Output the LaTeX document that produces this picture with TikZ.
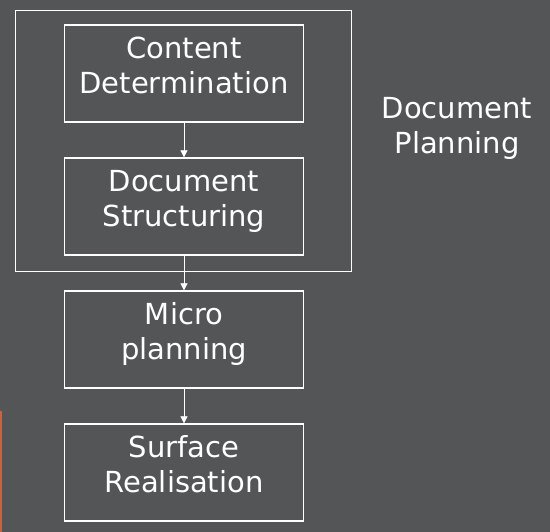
\documentclass[tikz,border=0pt]{standalone}
\usepackage{fontspec}
\setmainfont{DejaVu Sans}
\usepackage{xcolor}
\usetikzlibrary{positioning,arrows.meta}

\definecolor{slidebg}{RGB}{84,85,87}
\definecolor{accent}{RGB}{200,100,62}

\begin{document}
\begin{tikzpicture}[
  x=1pt, y=-1pt,
  node distance=34.7pt,
  >={Triangle[length=7pt,width=7pt]},
  font=\fontsize{29}{35}\selectfont,
  stage/.style={draw=white, line width=1.3pt, text=white, align=center, text depth=17pt, minimum width=239pt, minimum height=97pt, inner sep=0pt},
  arrow/.style={->, draw=white, line width=0.8pt}
]
\fill[slidebg] (0,0) rectangle (550,532);
\useasboundingbox (0,0) rectangle (550,532);
\fill[accent] (0,411) rectangle (1.5,532);

\node[stage] (content) at (184,73.5) {Content\\Determination};
\node[stage, below=of content] (structure) {Document\\Structuring};
\node[stage, below=of structure] (micro) {Micro\\planning};
\node[stage, below=of micro] (surface) {Surface\\Realisation};

% planning frame
\node[draw=white, line width=1pt, minimum width=336pt, minimum height=261pt, inner sep=0pt] (planning) at (183,141.5) {};
\node[text=white, align=center] (planlabel) at (457,128.5) {Document\\Planning};

\draw[arrow] (content) -- (structure);
\draw[arrow] (structure) -- (micro);
\draw[arrow] (micro) -- (surface);
\end{tikzpicture}
\end{document}
